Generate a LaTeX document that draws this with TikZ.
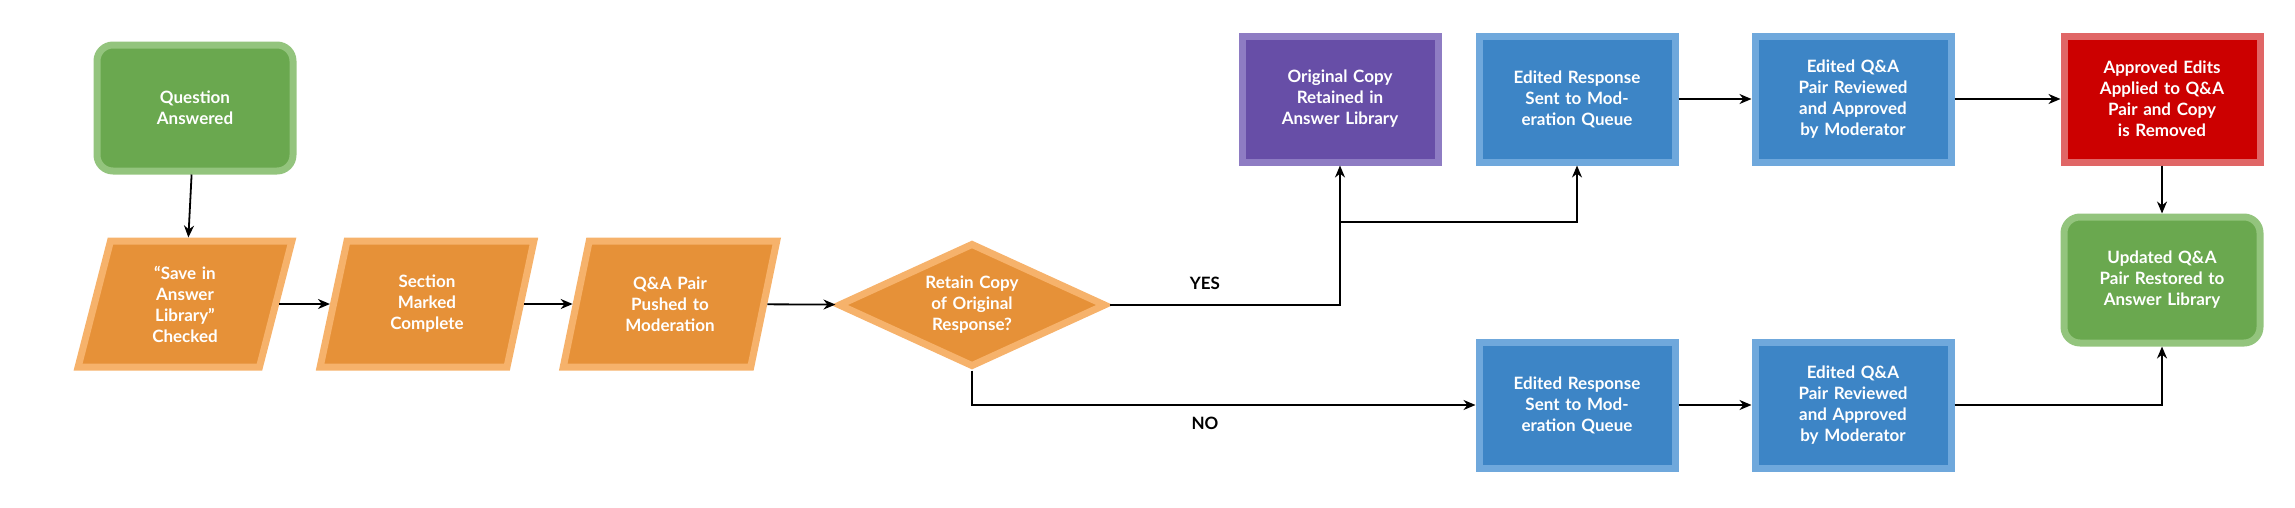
\documentclass[tikz,border=0pt]{standalone}
\usepackage{fontspec}
\setmainfont{Lato}
\usetikzlibrary{shapes.geometric,arrows.meta,positioning}
\definecolor{gfill}{HTML}{6AA84F}\definecolor{gline}{HTML}{93C47D}
\definecolor{ofill}{HTML}{E69138}\definecolor{oline}{HTML}{F6B26B}
\definecolor{pfill}{HTML}{674EA7}\definecolor{pline}{HTML}{8E7CC3}
\definecolor{bfill}{HTML}{3D85C6}\definecolor{bline}{HTML}{6FA8DC}
\definecolor{rfill}{HTML}{CC0000}\definecolor{rline}{HTML}{E06666}
\tikzset{
  box/.style={draw, line width=7pt, minimum width=196pt, minimum height=126pt,
    text width=150pt, align=center, text=white, font=\fontsize{17}{21}\selectfont\bfseries},
  startbox/.style={box, rounded corners=16pt, fill=gfill, draw=gline},
  bluebox/.style={box, fill=bfill, draw=bline},
  iobox/.style={box, trapezium, trapezium stretches=true, trapezium left angle=73,
    trapezium right angle=107, fill=ofill, draw=oline, text width=110pt, minimum width=214pt},
  choice/.style={box, diamond, aspect=2, inner sep=0pt, minimum width=268pt, minimum height=124pt,
    fill=ofill, draw=oline, text width=120pt},
  link/.style={-{Stealth[length=12pt,width=10pt]}, line width=1.8pt},
  lbl/.style={font=\fontsize{17}{21}\selectfont\bfseries}
}
\begin{document}
\begin{tikzpicture}[x=1pt,y=-1pt]
  \useasboundingbox (0,0) rectangle (2295,507);
  \node[startbox] (asked) at (195,108) {Question Answered};
  \node[iobox] (save) at (185,304) {``Save in Answer Library'' Checked};
  \node[iobox] (marked) at (427,304) {Section Marked Complete};
  \node[iobox] (pushed) at (670,304) {Q\&A Pair Pushed to Moderation};
  \node[choice] (retain) at (972,305) {Retain Copy of Original Response?};

  \node[box, fill=pfill, draw=pline] (orig) at (1340,99) {Original Copy Retained in Answer Library};
  \node[bluebox] (sentA) at (1577,99) {Edited Response Sent to Moderation Queue};
  \node[bluebox] (okA) at (1853,99) {Edited Q\&A Pair Reviewed and Approved by Moderator};
  \node[box, fill=rfill, draw=rline] (applied) at (2162,99) {Approved Edits Applied to Q\&A Pair and Copy is Removed};
  \node[startbox] (restored) at (2162,280) {Updated Q\&A Pair Restored to Answer Library};
  \node[bluebox] (sentB) at (1577,405) {Edited Response Sent to Moderation Queue};
  \node[bluebox] (okB) at (1853,405) {Edited Q\&A Pair Reviewed and Approved by Moderator};

  \draw[link] (asked) -- (save);
  \draw[link] (save) -- (marked);
  \draw[link] (marked) -- (pushed);
  \draw[link] (pushed) -- (retain);

  \coordinate (fork) at (1340,222);
  \draw[link] (retain.east) -| (orig.south);
  \draw[link] (fork) -| (sentA.south);
  \node[lbl] (yes) at (1205,283) {YES};
  \draw[link] (retain.south) |- (sentB.west);
  \node[lbl] (no) at (1205,423) {NO};

  \draw[link] (sentA) -- (okA);
  \draw[link] (okA) -- (applied);
  \draw[link] (applied) -- (restored);
  \draw[link] (sentB) -- (okB);
  \draw[link] (okB.east) -| (restored.south);
\end{tikzpicture}
\end{document}
